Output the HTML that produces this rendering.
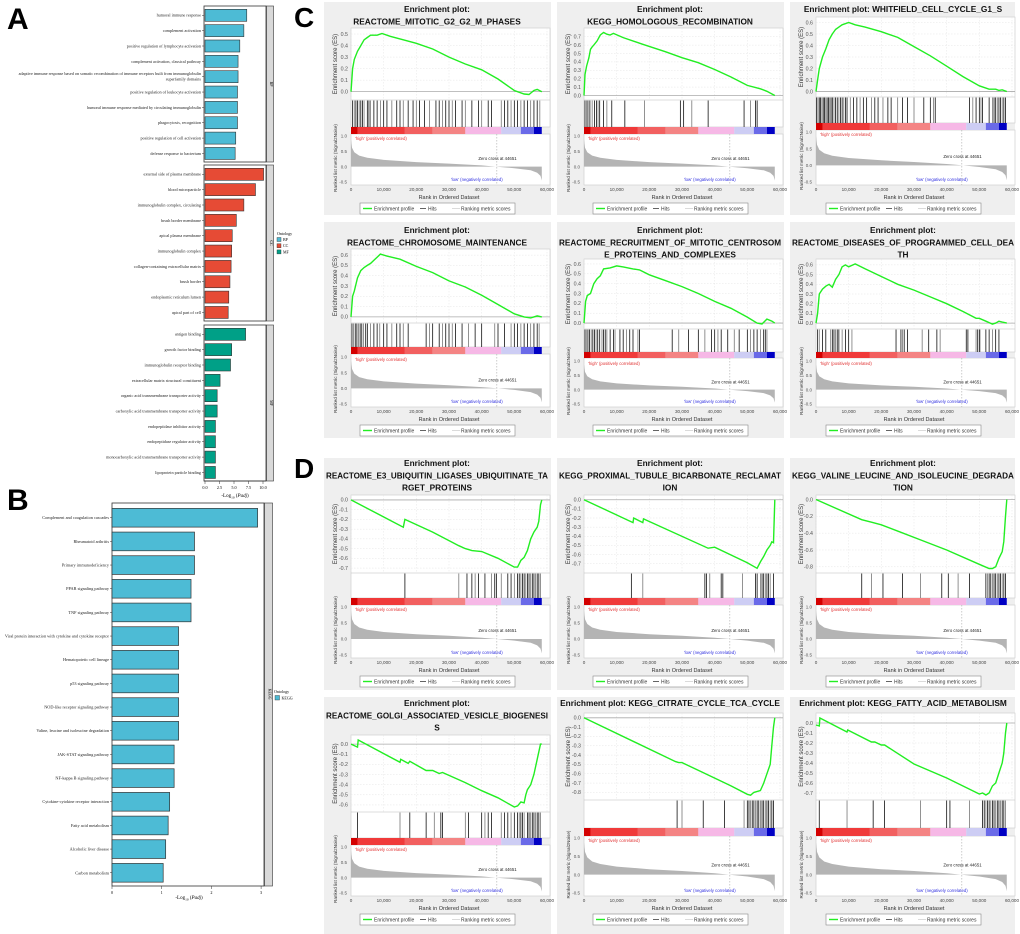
<!DOCTYPE html>
<html><head><meta charset="utf-8">
<style>
html,body{margin:0;padding:0;background:#fff;}
svg{display:block;font-family:"Liberation Sans",sans-serif;}
.serif{font-family:"Liberation Serif",serif;}
</style></head>
<body>
<svg id="fig" width="1020" height="934" viewBox="0 0 1020 934" xmlns="http://www.w3.org/2000/svg">
<rect x="0" y="0" width="1020" height="934" fill="#fff"/>
<text x="7" y="29" font-size="30" font-weight="bold">A</text>
<text x="7" y="510" font-size="30" font-weight="bold">B</text>
<text x="294" y="27" font-size="28" font-weight="bold">C</text>
<text x="294" y="478" font-size="28" font-weight="bold">D</text>
</svg>
<script>
// ---------- Panel A data ----------
const bpNames=["humoral immune response","complement activation","positive regulation of lymphocyte activation","complement activation, classical pathway","adaptive immune response based on somatic recombination of immune receptors built from immunoglobulin|superfamily domains","positive regulation of leukocyte activation","humoral immune response mediated by circulating immunoglobulin","phagocytosis, recognition","positive regulation of cell activation","defense response to bacterium"];
const bpVals=[7.2,6.7,6.0,5.7,5.7,5.6,5.6,5.6,5.3,5.2];
const ccNames=["external side of plasma membrane","blood microparticle","immunoglobulin complex, circulating","brush border membrane","apical plasma membrane","immunoglobulin complex","collagen-containing extracellular matrix","brush border","endoplasmic reticulum lumen","apical part of cell"];
const ccVals=[10.1,8.7,6.7,5.4,4.7,4.6,4.5,4.3,4.1,4.0];
const mfNames=["antigen binding","growth factor binding","immunoglobulin receptor binding","extracellular matrix structural constituent","organic acid transmembrane transporter activity","carboxylic acid transmembrane transporter activity","endopeptidase inhibitor activity","endopeptidase regulator activity","monocarboxylic acid transmembrane transporter activity","lipoprotein particle binding"];
const mfVals=[7.0,4.6,4.4,2.6,2.1,2.1,1.8,1.8,1.8,1.8];
const aTicks=[0,2.5,5,7.5,10];
const aTickLabels=["0.0","2.5","5.0","7.5","10.0"];
// ---------- Panel B data ----------
const keggNames=["Complement and coagulation cascades","Rheumatoid arthritis","Primary immunodeficiency","PPAR signaling pathway","TNF signaling pathway","Viral protein interaction with cytokine and cytokine receptor","Hematopoietic cell lineage","p53 signaling pathway","NOD-like receptor signaling pathway","Valine, leucine and isoleucine degradation","JAK-STAT signaling pathway","NF-kappa B signaling pathway","Cytokine-cytokine receptor interaction","Fatty acid metabolism","Alcoholic liver disease","Carbon metabolism"];
const keggVals=[2.93,1.66,1.66,1.59,1.59,1.34,1.34,1.34,1.34,1.34,1.25,1.25,1.16,1.13,1.08,1.03];
const bTicks=[0,1,2,3];
// ---------- GSEA shared data ----------
const metricRanks=[0,300,1000,2500,5000,10000,20000,30000,40000,44651,50000,55000,57000,58000,58400];
const metricVals=[0.88,0.62,0.47,0.36,0.29,0.22,0.15,0.1,0.04,0,-0.05,-0.12,-0.2,-0.3,-0.45];
const rankTicks=[0,10000,20000,30000,40000,50000,60000];
const rankTickLabels=["0","10,000","20,000","30,000","40,000","50,000","60,000"];
const g1R=[0,500,1000,2000,3000,4000,5000,6000,8000,9500,12000,16000,20000,25000,30000,35000,40000,45000,50000,53000,54500,56000,57000,58400];
const g1E=[0,0.2,0.28,0.35,0.4,0.45,0.47,0.49,0.49,0.505,0.48,0.45,0.42,0.37,0.3,0.24,0.19,0.11,0.01,-0.02,-0.025,0.01,0.02,0];
const g1T=[0,0.1,0.2,0.3,0.4,0.5];
const g1H=[0.5,1,1.5,2,2.5,3,3.5,4,5,5.5,6,7,8,9,10,11,12.5,14,15,16,17.5,19,20,21,22.5,24,26,27,28,29,30,31,32,34,35,37,39,40,42,43,46,47,48,49,50,51,52,53,54,55,56,57,57.8];
const g2R=[0,300,800,1500,2000,2500,3000,4000,5000,6000,7000,8000,9000,12000,18000,25000,30000,35000,40000,45000,50000,54000,56000,58400];
const g2E=[0,0.25,0.35,0.45,0.55,0.58,0.6,0.65,0.72,0.75,0.73,0.72,0.74,0.69,0.61,0.52,0.45,0.39,0.31,0.22,0.12,0.08,0.05,0];
const g2T=[0,0.1,0.2,0.3,0.4,0.5,0.6,0.7];
const g2H=[0.3,0.8,1.2,1.8,2.5,3.2,3.8,4.3,4.8,6,7,8.5,12.5,18.5,29.5,30.5,33,38,49,51,52.5,53];
const g3R=[0,500,1000,2000,3000,4000,5000,6000,7000,8000,10000,12000,15000,20000,25000,30000,35000,40000,45000,50000,53000,55000,56000,57000,58400];
const g3E=[0,0.1,0.2,0.3,0.37,0.45,0.5,0.54,0.56,0.58,0.6,0.58,0.56,0.52,0.47,0.39,0.31,0.22,0.13,0.05,0.02,0.02,0.01,0.015,0];
const g3T=[0,0.1,0.2,0.3,0.4,0.5,0.6];
const g3H=[0.2,0.6,1,1.4,1.8,2.2,2.6,3,3.4,3.8,4.2,4.6,5,5.5,6,6.5,7,7.5,8,8.5,9,9.5,10.5,11.5,12.5,13.5,14.5,15.5,17,18,19,20.5,22,23,25,26.5,28,30,33,35,36,36.5,47,48,49,50,50.5,51,53,54,54.5,55,55.5,56,56.5,57,57.5,58];
const g4R=[0,500,1000,2000,3000,4000,5000,6000,7000,8000,9000,11000,15000,20000,25000,30000,35000,40000,45000,50000,53000,55000,57000,58400];
const g4E=[0,0.2,0.25,0.38,0.45,0.48,0.5,0.52,0.55,0.58,0.61,0.59,0.56,0.49,0.43,0.35,0.29,0.21,0.12,0.03,0,-0.01,0.01,0];
const g4T=[0,0.1,0.2,0.3,0.4,0.5,0.6];
const g4H=[0.3,0.8,1.3,1.8,2.3,2.8,3.3,3.8,4.5,5,6,7,8,8.8,10,11,12.5,14,15,16,17.5,23,24,25,27,28,29,30,31,32,34,36,38,40,44,45,47,49,50,51,52,53,54,55,56,57,57.6];
const g5R=[0,500,1000,2000,3000,4000,5000,6000,8000,10000,12000,15000,17000,20000,25000,30000,35000,40000,45000,50000,53000,54500,56000,57500,58400];
const g5E=[0,0.22,0.28,0.3,0.4,0.45,0.48,0.55,0.56,0.58,0.57,0.55,0.54,0.49,0.43,0.37,0.3,0.22,0.15,0.06,0,-0.01,0.04,0.02,0];
const g5T=[0,0.1,0.2,0.3,0.4,0.5,0.6];
const g5H=[0.3,0.7,1.2,1.7,2.2,2.7,3.2,3.7,4.2,4.8,5.5,6,6.5,7,8,9,9.5,11,12,13,14,15,16.5,17,27,29,32,35,37,39,40,41,42,44,46,47.5,50,51,52,53,54,55,55.5,56];
const g6R=[0,500,1000,2000,3000,4000,5000,6000,7000,8000,9000,10000,12000,15000,20000,25000,30000,35000,40000,45000,49000,50000,52000,54000,55000,56000,57000,58400];
const g6E=[0,0.1,0.3,0.35,0.38,0.4,0.37,0.45,0.5,0.58,0.6,0.58,0.61,0.56,0.48,0.4,0.34,0.27,0.2,0.12,0.05,0.05,0.02,-0.01,0,0.02,0.01,0];
const g6T=[0,0.1,0.2,0.3,0.4,0.5,0.6];
const g6H=[0.5,1,2,3,4.5,5,5.5,6,6.5,7,8,9,10,11,24.5,26,26.5,27,28,32.5,34.5,37,38,46,46.5,49,49.5,50,50.2,52,53,54,55,56];
const g7R=[0,16000,16500,25000,33000,35000,37000,40000,45000,50000,51000,52000,53000,54000,55000,56000,57000,57500,58000,58400];
const g7E=[0,-0.28,-0.2,-0.33,-0.47,-0.5,-0.52,-0.53,-0.6,-0.69,-0.69,-0.62,-0.59,-0.52,-0.4,-0.33,-0.28,-0.22,-0.05,0];
const g7T=[0,-0.1,-0.2,-0.3,-0.4,-0.5,-0.6,-0.7];
const g7H=[16.5,33,35.5,37,38,39,41,43,44,44.5,46,48,49,50,51,51.5,52,52.5,53,53.5,54,54.5,55,55.5,56,56.5,57,57.5,58];
const g8R=[0,15000,15200,18000,18200,38000,40000,50000,53000,54000,55000,56000,57000,57500,58000,58400];
const g8E=[0,-0.25,-0.2,-0.25,-0.21,-0.53,-0.52,-0.69,-0.75,-0.68,-0.62,-0.55,-0.5,-0.46,-0.47,0];
const g8T=[0,-0.1,-0.2,-0.3,-0.4,-0.5,-0.6,-0.7];
const g8H=[14.5,18,37,37.5,38.5,42,42.5,48.5,52.5,53,54,54.5,55,55.5,56,56.5,57,58];
const g9R=[0,14000,17000,20000,26000,32000,40000,50000,53000,54000,55000,56000,57000,57500,58000,58400];
const g9E=[0,-0.24,-0.27,-0.3,-0.39,-0.48,-0.6,-0.77,-0.82,-0.82,-0.8,-0.7,-0.62,-0.5,-0.2,0];
const g9T=[0,-0.2,-0.4,-0.6,-0.8];
const g9H=[14,17,20.5,26.5,32,38.5,40.5,43.5,47,52,52.5,53,53.5,54,54.5,55,55.5,56,56.5,57,57.5,58];
const g10R=[0,2000,2200,15000,15200,17500,18000,23000,25000,27000,28000,35000,40000,45000,50000,51000,52000,53000,53500,54000,55000,56000,57000,58000,58400];
const g10E=[0,-0.03,0.04,-0.18,-0.15,-0.19,-0.17,-0.26,-0.26,-0.29,-0.28,-0.38,-0.46,-0.53,-0.62,-0.61,-0.57,-0.58,-0.5,-0.45,-0.4,-0.3,-0.15,0,0];
const g10T=[0,-0.1,-0.2,-0.3,-0.4,-0.5,-0.6];
const g10H=[2,15,18,23,25.5,27.5,28,35,36,40,41,42,43,46,47,48,49,50,51,51.5,52,52.5,53,54,54.5,55,55.5,56,56.5,57,57.5,58];
const g11R=[0,28000,29000,30000,36000,45000,50000,51000,52000,54000,55000,56000,57000,57500,58000,58400];
const g11E=[0,-0.47,-0.48,-0.48,-0.58,-0.73,-0.82,-0.83,-0.8,-0.78,-0.7,-0.6,-0.5,-0.3,-0.1,0];
const g11T=[0,-0.1,-0.2,-0.3,-0.4,-0.5,-0.6,-0.7,-0.8];
const g11H=[28.5,30,36.5,43,49,50,50.5,51,51.5,52,52.5,53,53.5,54,54.5,55,55.5,56,56.5,57,57.5,58];
const g12R=[0,1000,1200,9500,9700,17000,18000,20000,21000,30000,40000,50000,51000,52000,53000,54000,55000,56000,57000,57500,58000,58400];
const g12E=[-0.02,-0.03,0.05,-0.09,-0.07,-0.19,-0.19,-0.22,-0.22,-0.41,-0.55,-0.71,-0.7,-0.72,-0.7,-0.63,-0.6,-0.5,-0.4,-0.3,-0.1,0];
const g12T=[0,-0.1,-0.2,-0.3,-0.4,-0.5,-0.6,-0.7];
const g12H=[1,9.5,17.5,21,32,40,41,47,51,51.5,52,52.5,53,53.5,54,54.5,55,55.5,56,56.5,57,57.5,58];

const NS='http://www.w3.org/2000/svg';
const svg=document.getElementById('fig');
function mk(tag,attrs,parent){const e=document.createElementNS(NS,tag);for(const k in attrs)e.setAttribute(k,attrs[k]);(parent||svg).appendChild(e);return e;}
function tx(str,attrs,parent){const e=mk('text',attrs,parent);e.textContent=str;return e;}

// ---------- Panel A ----------
const xA=v=>205+v*5.8;
const gA=mk('g',{});


function facetA(yTop,names,vals,color,strip,key){
  const g=mk('g',{},gA);
  
  
  mk('rect',{x:204,y:yTop,width:62,height:156,fill:'#fff',stroke:'#333','stroke-width':0.8},g);
  mk('rect',{x:266.5,y:yTop,width:7,height:156,fill:'#d9d9d9',stroke:'#333','stroke-width':0.6},g);
  const st=tx(strip,{x:270,y:yTop+78,'font-size':4,'text-anchor':'middle',transform:`rotate(90 270 ${yTop+78})`,class:'serif'},g);
  
  
  names.forEach((n,i)=>{
    const cy=yTop+9.3+i*15.35;
    const b=mk('rect',{x:xA(0),y:cy-6,width:xA(vals[i])-xA(0),height:12,fill:color,stroke:'#333','stroke-width':0.6},g);
    
    
    mk('line',{x1:202,x2:204,y1:cy,y2:cy,stroke:'#333','stroke-width':0.5},g);
    const parts=n.split('|');
    parts.forEach((p,j)=>{
      const t=tx(p,{x:201,y:cy+1.4+(parts.length>1?(j*5.5-3):0),'font-size':4.2,'text-anchor':'end',fill:'#222',class:'serif'},g);
      
      
    });
  });
}
facetA(6,bpNames,bpVals,'#4dbbd5','BP','bp');
facetA(165,ccNames,ccVals,'#e64b35','CC','cc');
facetA(325,mfNames,mfVals,'#00a087','MF','mf');
mk('line',{x1:204,x2:266,y1:481,y2:481,stroke:'#333','stroke-width':0.8},gA);
aTicks.forEach((v,i)=>{
  mk('line',{x1:xA(v),x2:xA(v),y1:481,y2:484,stroke:'#333','stroke-width':0.5},gA);
  const t=tx(aTickLabels[i],{x:xA(v),y:489,'font-size':4.2,'text-anchor':'middle',class:'serif'},gA);
  
  
});
const atA=tx('',{x:235,y:497,'font-size':5,'text-anchor':'middle',class:'serif'},gA);
atA.innerHTML='-Log<tspan font-size="3.5" dy="1.5">10</tspan><tspan dy="-1.5"> (</tspan><tspan font-style="italic">Padj</tspan>)';


const lgA=mk('g',{},gA);


tx('Ontology',{x:277,y:235,'font-size':4,class:'serif'},lgA);
[['BP','#4dbbd5'],['CC','#e64b35'],['MF','#00a087']].forEach((d,i)=>{
  const r=mk('rect',{x:277,y:237.5+i*6.2,width:4,height:4,fill:d[1],stroke:'#333','stroke-width':0.4},lgA);
  
  
  tx(d[0],{x:283,y:241+i*6.2,'font-size':4,class:'serif'},lgA);
});

// ---------- Panel B ----------
const xB=v=>112+v*49.7;
const gB=mk('g',{});


mk('rect',{x:112,y:503,width:152,height:383,fill:'#fff',stroke:'#333','stroke-width':0.8},gB);
mk('rect',{x:264.5,y:503,width:8,height:383,fill:'#d9d9d9',stroke:'#333','stroke-width':0.6},gB);
const stB=tx('KEGG',{x:268.5,y:694,'font-size':4,'text-anchor':'middle',transform:'rotate(90 268.5 694)',class:'serif'},gB);


keggNames.forEach((n,i)=>{
  const cy=517.7+i*23.67;
  const b=mk('rect',{x:xB(0),y:cy-9.3,width:xB(keggVals[i])-xB(0),height:18.7,fill:'#4dbbd5',stroke:'#333','stroke-width':0.7},gB);
  
  
  mk('line',{x1:110,x2:112,y1:cy,y2:cy,stroke:'#333','stroke-width':0.5},gB);
  const t=tx(n,{x:109,y:cy+1.5,'font-size':4.3,'text-anchor':'end',fill:'#222',class:'serif'},gB);
  
  
});
bTicks.forEach(v=>{
  mk('line',{x1:xB(v),x2:xB(v),y1:886,y2:889,stroke:'#333','stroke-width':0.5},gB);
  const t=tx(String(v),{x:xB(v),y:894,'font-size':4.2,'text-anchor':'middle',class:'serif'},gB);
  
  
});
const atB=tx('',{x:189,y:899,'font-size':5,'text-anchor':'middle',class:'serif'},gB);
atB.innerHTML='-Log<tspan font-size="3.5" dy="1.5">10</tspan><tspan dy="-1.5"> (</tspan><tspan font-style="italic">Padj</tspan>)';


const lgB=mk('g',{},gB);


tx('Ontology',{x:274,y:693,'font-size':4,class:'serif'},lgB);
mk('rect',{x:275,y:695.5,width:4.5,height:4.5,fill:'#4dbbd5',stroke:'#333','stroke-width':0.4},lgB);
tx('KEGG',{x:281.5,y:699.5,'font-size':4,class:'serif'},lgB);

// ---------- GSEA ----------
const colBg=[324,557,790], colX0=[351,584,816];
const rowBg=[[2,215],[222,438],[458,690],[697,934]];
const cbSegs=[[0,2000,'#d40000'],[2000,16500,'#f03a3a'],[16500,25000,'#f26060'],[25000,35000,'#f48484'],[35000,46000,'#f6b8e6'],[46000,52000,'#cdcdf4'],[52000,56000,'#6a6ae8'],[56000,58400,'#0000c4']];
function gsea(o){
  const x0=colX0[o.col], bx=colBg[o.col], rb=rowBg[o.row];
  const xR=r=>x0+r/60000*196;
  const g=mk('g',{});
  
  
  mk('rect',{x:bx,y:rb[0],width:o.col==2?225:227,height:rb[1]-rb[0],fill:'#efefef'},g);
  o.title.forEach((t,i)=>{
    const e=tx(t,{x:bx+113,y:o.tY+i*12.3,'font-size':8.3,'font-weight':'bold','text-anchor':'middle',fill:'#111'},g);
    
    
    const w=e.getComputedTextLength();
    if(w>222){e.setAttribute('textLength',222);e.setAttribute('lengthAdjust','spacingAndGlyphs');}
  });
  const L=o.L, W=199;
  mk('rect',{x:x0,y:L.esTop,width:W,height:L.hitsBot-L.esTop,fill:'#fff',stroke:'#c8c8c8','stroke-width':0.6},g);
  mk('rect',{x:x0,y:L.cbBot,width:W,height:L.rkm+3-L.cbBot,fill:'#fff',stroke:'#c8c8c8','stroke-width':0.6},g);
  mk('line',{x1:x0,x2:x0+W,y1:L.esBot,y2:L.esBot,stroke:'#bbb','stroke-width':0.6},g);
  const mx=Math.max(Math.max(...o.E),Math.max(...o.T))+0.03, mn=Math.min(Math.min(...o.E),Math.min(...o.T))-0.03;
  const yE=v=>L.esTop+2+(mx-v)/(mx-mn)*(L.esBot-L.esTop-4);
  rankTicks.forEach(r=>mk('line',{x1:xR(r),x2:xR(r),y1:L.esTop,y2:L.esBot,stroke:'#e4e4e4','stroke-width':0.5,'stroke-dasharray':'1.5 1.5'},g));
  o.T.forEach(v=>{
    mk('line',{x1:x0,x2:x0+W,y1:yE(v),y2:yE(v),stroke:v===0?'#aaa':'#e4e4e4','stroke-width':v===0?0.8:0.5,'stroke-dasharray':v===0?'':'1.5 1.5'},g);
    const t=tx(v.toFixed(1),{x:x0-3,y:yE(v)+1.8,'font-size':5.3,'text-anchor':'end',fill:'#555'},g);
    
    
  });
  const pts=o.R.map((r,i)=>xR(r).toFixed(1)+','+yE(o.E[i]).toFixed(1)).join(' ');
  const pl=mk('polyline',{points:pts,fill:'none',stroke:'#22ee22','stroke-width':1.4},g);
  
  
  o.H.forEach((h,i)=>{
    const ln=mk('line',{x1:xR(h*1000),x2:xR(h*1000),y1:L.esBot+0.5,y2:L.hitsBot,stroke:i%3==1?'#777':'#111','stroke-width':0.8},g);
    
    
  });
  cbSegs.forEach(s=>mk('rect',{x:xR(s[0]),y:L.hitsBot,width:xR(s[1])-xR(s[0]),height:L.cbBot-L.hitsBot,fill:s[2]},g));
  const yK=v=>L.rk1+(1-v)/1.5*(L.rkm-L.rk1);
  let mp='M'+xR(0)+','+yK(0);
  metricRanks.forEach((r,i)=>{mp+=' L'+xR(r).toFixed(1)+','+yK(metricVals[i]).toFixed(1);});
  mp+=' L'+xR(58400)+','+yK(0)+' Z';
  const ma=mk('path',{d:mp,fill:'#b4b4b4'},g);
  
  
  mk('line',{x1:xR(44651),x2:xR(44651),y1:L.cbBot,y2:L.rkm+3,stroke:'#999','stroke-width':0.5,'stroke-dasharray':'1.5 1.5'},g);
  [1,0.5,0,-0.5].forEach(v=>{
    const t=tx(v.toFixed(1),{x:x0-4,y:yK(v)+1.6,'font-size':4.5,'text-anchor':'end',fill:'#555'},g);
    
    
  });
  tx("'high' (positively correlated)",{x:x0+4,y:L.rk1+4,'font-size':4.3,fill:'#e03030'},g);
  tx('Zero cross at 44651',{x:xR(39000),y:yK(0.22),'font-size':4.3,fill:'#222'},g);
  tx("'low' (negatively correlated)",{x:xR(38500),y:L.rkm-1,'font-size':4.3,fill:'#3030e0','text-anchor':'middle'},g);
  rankTicks.forEach((r,i)=>{
    const t=tx(rankTickLabels[i],{x:xR(r),y:L.rkm+9,'font-size':4.6,'text-anchor':'middle',fill:'#444'},g);
    
    
  });
  const xt=tx('Rank in Ordered Dataset',{x:x0+98,y:L.rkm+17,'font-size':5.5,'text-anchor':'middle',fill:'#333'},g);
  
  
  const ycE=(L.esTop+L.esBot)/2;
  const yt=tx('Enrichment score (ES)',{x:bx+13,y:ycE,'font-size':6,'text-anchor':'middle',fill:'#333',transform:`rotate(-90 ${bx+13} ${ycE})`},g);
  
  
  const ycK=(L.cbBot+L.rkm)/2;
  const yt2=tx('Ranked list metric (Signal2Noise)',{x:bx+13,y:ycK,'font-size':4.6,'text-anchor':'middle',fill:'#333',transform:`rotate(-90 ${bx+13} ${ycK})`},g);
  
  
  const lg=mk('g',{},g);
  
  
  const ly=L.rkm+21;
  mk('rect',{x:bx+36,y:ly,width:155,height:11,fill:'#fff',stroke:'#888','stroke-width':0.6},lg);
  mk('line',{x1:bx+39,x2:bx+48,y1:ly+5.5,y2:ly+5.5,stroke:'#22ee22','stroke-width':1.4},lg);
  tx('Enrichment profile',{x:bx+50,y:ly+7.3,'font-size':5,fill:'#333'},lg);
  mk('line',{x1:bx+96,x2:bx+102,y1:ly+5.5,y2:ly+5.5,stroke:'#222','stroke-width':0.7},lg);
  tx('Hits',{x:bx+104,y:ly+7.3,'font-size':5,fill:'#333'},lg);
  mk('line',{x1:bx+128,x2:bx+136,y1:ly+5.5,y2:ly+5.5,stroke:'#ccc','stroke-width':0.7},lg);
  tx('Ranking metric scores',{x:bx+137,y:ly+7.3,'font-size':5,fill:'#333'},lg);
}
const LC1={esTop:28,esBot:100,hitsBot:127,cbBot:134,rk1:136,rkm:182};
const LC1b={esTop:17,esBot:97,hitsBot:123,cbBot:130,rk1:132,rkm:182};
const LC2a={esTop:249,esBot:323,hitsBot:347,cbBot:354,rk1:357,rkm:404};
const LC2b={esTop:259,esBot:329,hitsBot:352,cbBot:358,rk1:361,rkm:404};
const LD1={esTop:495,esBot:573,hitsBot:598,cbBot:605,rk1:607,rkm:655};
const LD2a={esTop:735,esBot:812,hitsBot:838,cbBot:845,rk1:847,rkm:893};
const LD2b={esTop:713,esBot:800,hitsBot:828,cbBot:836,rk1:838,rkm:893};
gsea({key:'mitotic-g2',col:0,row:0,tY:12,title:['Enrichment plot:','REACTOME_MITOTIC_G2_G2_M_PHASES'],L:LC1,R:g1R,E:g1E,T:g1T,H:g1H});
gsea({key:'homologous-recombination',col:1,row:0,tY:12,title:['Enrichment plot:','KEGG_HOMOLOGOUS_RECOMBINATION'],L:LC1,R:g2R,E:g2E,T:g2T,H:g2H});
gsea({key:'whitfield-g1-s',col:2,row:0,tY:12,title:['Enrichment plot: WHITFIELD_CELL_CYCLE_G1_S'],L:LC1b,R:g3R,E:g3E,T:g3T,H:g3H});
gsea({key:'chromosome-maintenance',col:0,row:1,tY:233,title:['Enrichment plot:','REACTOME_CHROMOSOME_MAINTENANCE'],L:LC2a,R:g4R,E:g4E,T:g4T,H:g4H});
gsea({key:'recruitment-centrosome',col:1,row:1,tY:233,title:['Enrichment plot:','REACTOME_RECRUITMENT_OF_MITOTIC_CENTROSOM','E_PROTEINS_AND_COMPLEXES'],L:LC2b,R:g5R,E:g5E,T:g5T,H:g5H});
gsea({key:'programmed-cell-death',col:2,row:1,tY:233,title:['Enrichment plot:','REACTOME_DISEASES_OF_PROGRAMMED_CELL_DEA','TH'],L:LC2b,R:g6R,E:g6E,T:g6T,H:g6H});
gsea({key:'e3-ubiquitin',col:0,row:2,tY:466,title:['Enrichment plot:','REACTOME_E3_UBIQUITIN_LIGASES_UBIQUITINATE_TA','RGET_PROTEINS'],L:LD1,R:g7R,E:g7E,T:g7T,H:g7H});
gsea({key:'proximal-tubule',col:1,row:2,tY:466,title:['Enrichment plot:','KEGG_PROXIMAL_TUBULE_BICARBONATE_RECLAMAT','ION'],L:LD1,R:g8R,E:g8E,T:g8T,H:g8H});
gsea({key:'valine-leucine',col:2,row:2,tY:466,title:['Enrichment plot:','KEGG_VALINE_LEUCINE_AND_ISOLEUCINE_DEGRADA','TION'],L:LD1,R:g9R,E:g9E,T:g9T,H:g9H});
gsea({key:'golgi-vesicle',col:0,row:3,tY:706,title:['Enrichment plot:','REACTOME_GOLGI_ASSOCIATED_VESICLE_BIOGENESI','S'],L:LD2a,R:g10R,E:g10E,T:g10T,H:g10H});
gsea({key:'citrate-cycle',col:1,row:3,tY:706,title:['Enrichment plot: KEGG_CITRATE_CYCLE_TCA_CYCLE'],L:LD2b,R:g11R,E:g11E,T:g11T,H:g11H});
gsea({key:'fatty-acid',col:2,row:3,tY:706,title:['Enrichment plot: KEGG_FATTY_ACID_METABOLISM'],L:LD2b,R:g12R,E:g12E,T:g12T,H:g12H});
Array.from(svg.querySelectorAll(':scope > text')).forEach(t=>svg.appendChild(t));
</script>
</body></html>
